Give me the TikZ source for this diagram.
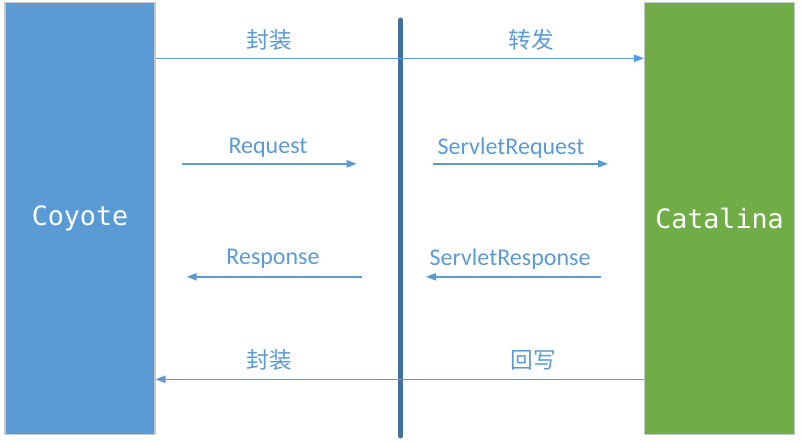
\documentclass[tikz,border=0pt]{standalone}
\usepackage{fontspec}
\setmainfont{Carlito}
\newfontfamily\cjkfont{Noto Sans CJK SC}
\newfontfamily\boxfont{DejaVu Sans Mono}
\usetikzlibrary{arrows.meta}

\definecolor{coyoteblue}{RGB}{91,155,213}
\definecolor{catalinagreen}{RGB}{112,173,71}
\definecolor{boxedge}{RGB}{200,200,200}
\definecolor{barblue}{RGB}{65,113,156}

\tikzset{every picture/.style={line width=0.75pt}}
\tikzset{
  layerbox/.style={draw=boxedge, line width=0.8pt, minimum width=112.5pt, minimum height=324pt, inner sep=0pt, text=white, font=\boxfont\fontsize{20}{20}\selectfont},
  flow/.style={draw=coyoteblue, line width=1.1pt, -{Triangle[length=7.5pt,width=5.5pt]}},
  flowlabel/.style={inner sep=0.75pt, text=coyoteblue, font=\fontsize{18}{18}\selectfont},
  cjklabel/.style={flowlabel, font=\cjkfont\fontsize{17}{17}\selectfont}
}

\begin{document}
\begin{tikzpicture}[x=0.75pt,y=0.75pt,yscale=-1,xscale=1]
\useasboundingbox (0,0) rectangle (801,443);

%Shape: Rectangle [id:coyote]
\node [layerbox, fill=coyoteblue] (coyote) at (80,218.5) {Coyote};
%Shape: Rectangle [id:catalina]
\node [layerbox, fill=catalinagreen] (catalina) at (719.5,218.5) {Catalina};

%Straight Lines [id:bar]
\coordinate (bartop) at (400.5,20);
\coordinate (barbottom) at (400.5,436);
\draw [color=barblue, line width=3.8pt, line cap=round] (bartop) -- (barbottom);

%Straight Lines [id:wrap]
\coordinate (wrapy) at (0,58.3);
\draw [flow] (coyote.east |- wrapy) -- (catalina.west |- wrapy);
%Straight Lines [id:write]
\coordinate (writey) at (0,379.3);
\draw [flow] (catalina.west |- writey) -- (coyote.east |- writey);

%Straight Lines [id:req]
\coordinate (reqa) at (181.5,163.8);
\coordinate (reqb) at (356.7,163.8);
\draw [flow] (reqa) -- (reqb);
%Straight Lines [id:sreq]
\coordinate (sreqa) at (433,163.8);
\coordinate (sreqb) at (608,163.8);
\draw [flow] (sreqa) -- (sreqb);
%Straight Lines [id:resp]
\coordinate (respa) at (361.7,276.8);
\coordinate (respb) at (186.7,276.8);
\draw [flow] (respa) -- (respb);
%Straight Lines [id:sresp]
\coordinate (srespa) at (601,276.8);
\coordinate (srespb) at (426,276.8);
\draw [flow] (srespa) -- (srespb);

% Text Node
\node [cjklabel] (wrapl) at (269,40) {封装};
% Text Node
\node [cjklabel] (fwdl) at (531,40) {转发};
% Text Node
\node [flowlabel] (reql) at (268,148) {Request};
% Text Node
\node [flowlabel] (sreql) at (511,148) {ServletRequest};
% Text Node
\node [flowlabel] (respl) at (273,259) {Response};
% Text Node
\node [flowlabel] (srespl) at (510,259) {ServletResponse};
% Text Node
\node [cjklabel] (wrap2l) at (269,360) {封装};
% Text Node
\node [cjklabel] (writel) at (533,360) {回写};

\end{tikzpicture}
\end{document}
